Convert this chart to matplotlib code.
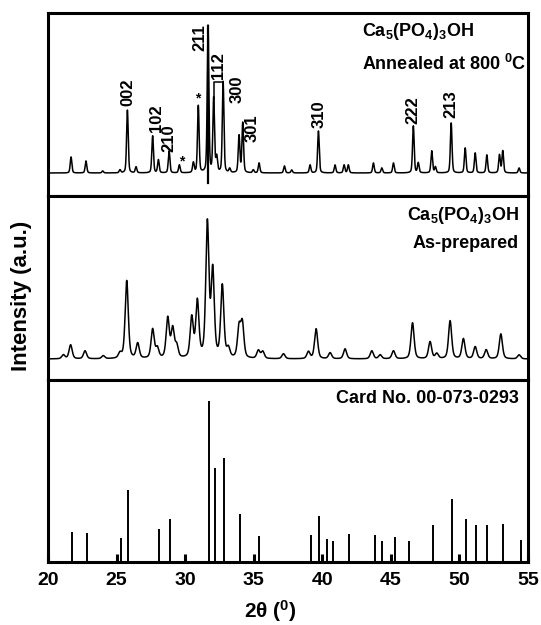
import numpy as np
import matplotlib
matplotlib.use("Agg")
import matplotlib.pyplot as plt

plt.rcParams['font.family'] = ['Liberation Sans', 'DejaVu Sans']
plt.rcParams['font.weight'] = 'bold'
plt.rcParams['mathtext.fontset'] = 'custom'
plt.rcParams['mathtext.rm'] = 'Liberation Sans:bold'
plt.rcParams['mathtext.it'] = 'Liberation Sans:bold'
plt.rcParams['mathtext.bf'] = 'Liberation Sans:bold'

# ---------------- data ----------------
# Annealed at 800 C (peak positions in 2theta, heights in a.u.)
ann_pos = [21.68, 22.77, 23.99, 25.25, 25.79, 26.42, 27.63, 28.05, 28.83, 29.58,
           30.60, 30.96, 31.67, 32.08, 32.30, 32.77, 33.25, 33.93, 34.20, 34.97,
           35.39, 37.24, 37.77, 39.11, 39.72, 40.93, 41.59, 41.90, 43.73, 44.34,
           45.19, 46.64, 47.00, 47.98, 48.25, 49.40, 50.42, 51.15, 52.00, 52.92,
           53.16, 54.35]
ann_h = [16, 12, 2, 3, 63, 6, 37, 13, 22, 8,
         10, 67, 147, 74, 15, 91, 4, 37, 50, 3,
         10, 7, 3, 8, 42, 8, 8, 8, 10, 5,
         10, 47, 10, 22, 6, 50, 25, 20, 18, 18,
         22, 5]
ann_dip = -10

# As-prepared
asp_pos = [21.12, 21.65, 22.70, 24.03, 25.25, 25.74, 26.54, 27.63, 27.97, 28.73,
           29.09, 29.38, 30.48, 30.89, 31.62, 32.01, 32.71, 33.15, 33.93, 34.17,
           35.34, 35.66, 37.17, 38.99, 39.55, 40.57, 41.66, 43.61, 44.22, 45.19,
           46.58, 47.86, 48.35, 49.32, 50.29, 51.15, 51.95, 53.02, 54.35]
asp_h = [4, 14, 8, 3, 5, 78, 15, 29, 10, 40,
         29, 12, 40, 56, 134, 86, 72, 9, 30, 34,
         8, 7, 5, 7, 30, 6, 10, 8, 4, 8,
         36, 17, 5, 38, 20, 12, 9, 25, 4]

# Reference card 00-073-0293
card_pos = [21.73, 22.82, 25.33, 25.86, 28.12, 28.90, 31.72, 32.18, 32.86, 34.00,
            35.41, 39.16, 39.74, 40.37, 40.81, 41.98, 43.85, 44.34, 45.31, 46.33,
            48.06, 49.49, 50.47, 51.22, 52.04, 53.21, 54.48]
card_h = [30, 29, 24, 72, 33, 43, 161, 94, 104, 48,
          26, 27, 46, 23, 21, 28, 27, 21, 25, 21,
          37, 63, 43, 37, 37, 38, 22]

hkl_labels = ['002', '102', '210', '211', '112', '300', '301', '310', '222', '213']
hkl_x = [25.83, 27.92, 28.85, 31.09, 32.45, 33.79, 34.88, 39.77, 46.62, 49.39]
hkl_y = [81, 55, 35, 135, 107, 84, 45, 59, 63, 69]
star_x = [29.77, 30.94]
star_y = [19, 82]

xticks = [20, 25, 30, 35, 40, 45, 50, 55]


def pattern(x, pos, h, fwhm, eta=0.5):
    y = np.zeros_like(x)
    hw = fwhm / 2.0
    sig = fwhm / 2.3548
    for p, a in zip(pos, h):
        d = x - p
        lor = 1.0 / (1.0 + (d / hw) ** 2)
        gau = np.exp(-0.5 * (d / sig) ** 2)
        y += a * (eta * lor + (1 - eta) * gau)
    return y


x = np.linspace(20, 55, 4000)
y_ann = pattern(x, ann_pos, ann_h, 0.14, 0.35)
y_asp = pattern(x, asp_pos, asp_h, 0.27, 0.45)

W, H = 541, 625
fig = plt.figure(figsize=(W / 100, H / 100), dpi=100)

left = 48 / W
width = (528 - 48) / W


def axrect(top_px, bot_px):
    return [left, 1 - bot_px / H, width, (bot_px - top_px) / H]


ax1 = fig.add_axes(axrect(13, 196))
ax2 = fig.add_axes(axrect(196, 380))
ax3 = fig.add_axes(axrect(380, 562))

lw_spine = 2.2
for ax in (ax1, ax2, ax3):
    ax.set_xlim(20, 55)
    for s in ax.spines.values():
        s.set_linewidth(lw_spine)
    ax.set_yticks([])

# top panel
ax1.plot(x, y_ann, color='black', lw=1.1)
i211 = int(np.argmax(ann_h))
ax1.plot([ann_pos[i211], ann_pos[i211]], [ann_dip, ann_h[i211]], color='black', lw=1.6)
i112 = ann_pos.index(32.08)
i300 = ann_pos.index(32.77)
ax1.plot([ann_pos[i112] + 0.04, ann_pos[i112] + 0.04, ann_pos[i300]],
         [ann_h[i112], ann_h[i300], ann_h[i300]], color='black', lw=1.1)
ax1.set_ylim(-23, 160)
ax1.set_xticks([])
for lab, lx, ly in zip(hkl_labels, hkl_x, hkl_y):
    ax1.text(lx, ly, lab, rotation=90, ha='center', va='center', fontsize=12, fontweight='bold')
for sx, sy in zip(star_x, star_y):
    ax1.text(sx, sy, '*', ha='center', va='top', fontsize=10, fontweight='bold')
ax1.text((362 - 48) / (480) * 35 + 20, 173 - 31.5, r'Ca$_5$(PO$_4$)$_3$OH', ha='left', va='center',
         fontsize=13, fontweight='bold')
ax1.text((362 - 48) / (480) * 35 + 20, 173 - 64, r'Annealed at 800 $^0$C', ha='left', va='center',
         fontsize=13, fontweight='bold')

# middle panel
ax2.plot(x, y_asp, color='black', lw=1.1)
ax2.set_ylim(-21, 163)
ax2.set_xticks([])
ax2.text(0.98, 0.893, r'Ca$_5$(PO$_4$)$_3$OH', transform=ax2.transAxes, ha='right', va='center',
         fontsize=13, fontweight='bold')
ax2.text(0.98, 0.74, 'As-prepared', transform=ax2.transAxes, ha='right', va='center',
         fontsize=13, fontweight='bold')

# bottom panel
ax3.vlines(card_pos, 0, card_h, color='black', lw=1.4)
ax3.set_ylim(0, 182)
ax3.set_xticks(xticks)
ax3.set_xticklabels([str(t) for t in xticks])
ax3.tick_params(axis='x', direction='in', length=6, width=2.2, pad=7, labelsize=14)
for t in ax3.get_xticklabels():
    t.set_fontweight('bold')
ax3.text(0.98, 0.9, 'Card No. 00-073-0293', transform=ax3.transAxes, ha='right', va='center',
         fontsize=13, fontweight='bold')

fig.text(270 / W, 1 - 611 / H, r'2θ ($^0$)', ha='center', va='center', fontsize=15, fontweight='bold')
fig.text(22 / W, 1 - 296 / H, 'Intensity (a.u.)', rotation=90, ha='center', va='center',
         fontsize=16, fontweight='bold')

fig.savefig('out.png', dpi=100)
